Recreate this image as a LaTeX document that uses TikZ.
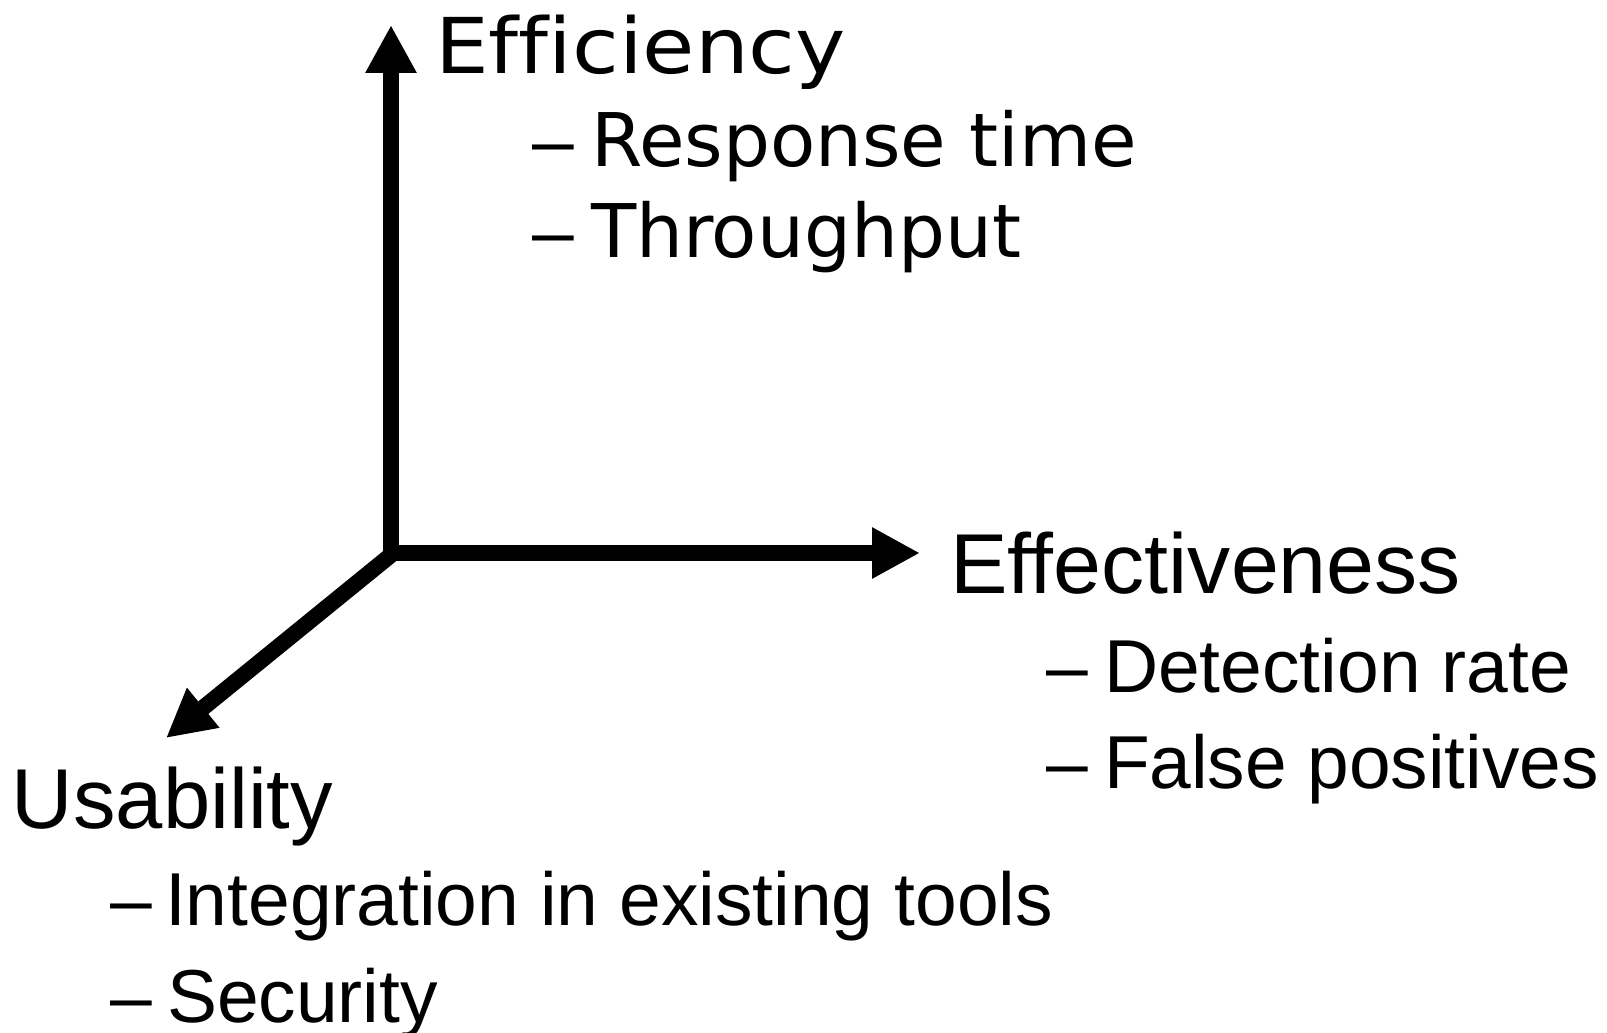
\documentclass[tikz,border=0pt]{standalone}
\usepackage{fontspec}
\setmainfont{Liberation Sans}[Ligatures=NoCommon]
\newfontfamily\vera{DejaVu Sans}[Ligatures=NoCommon]
\newfontfamily\arial{Liberation Sans}[Ligatures=NoCommon]
\usetikzlibrary{arrows.meta}
\begin{document}
\begin{tikzpicture}[x=1pt,y=-1pt,
  axis/.style={line width=16pt,line cap=butt,-{Triangle[length=48pt,width=48pt]}},
  lbl/.style={anchor=base west,inner sep=0pt,outer sep=0pt},
  verahead/.style={lbl,font=\vera\fontsize{77}{90}\selectfont},
  veraitem/.style={lbl,font=\vera\fontsize{74}{90}\selectfont},
  arialhead/.style={lbl,font=\arial\fontsize{85}{100}\selectfont},
  arialitem/.style={lbl,font=\arial\fontsize{75}{90}\selectfont}]
\useasboundingbox[fill=white] (0,0) rectangle (1607,1033);
\coordinate (Ov) at (391,561);
\coordinate (Oh) at (383,553);
\coordinate (Od) at (391,555);
\coordinate (tipV) at (391,25);
\coordinate (tipH) at (920,553);
\coordinate (tipD) at (166,738);
\draw[axis] (Ov) -- (tipV);
\draw[axis] (Oh) -- (tipH);
\draw[axis] (Od) -- (tipD);
% Efficiency
\node[verahead] (eff) at (435,74) {\resizebox{411pt}{\height}{Efficiency}};
\node[arialitem] (d1) at (532,166) {–};
\node[veraitem] (resp) at (591,166) {Response time};
\node[arialitem] (d2) at (532,257) {–};
\node[veraitem] (thr) at (591,257) {Throughput};
% Effectiveness
\node[arialhead] (effect) at (950,593) {\resizebox{511pt}{\height}{Effectiveness}};
\node[arialitem] (d3) at (1046,692) {–};
\node[arialitem] (det) at (1104,692) {Detection rate};
\node[arialitem] (d4) at (1046,788) {–};
\node[arialitem] (fp) at (1104,788) {\resizebox{495pt}{\height}{False positives}};
% Usability
\node[arialhead] (us) at (12,828) {Usability};
\node[arialitem] (d5) at (110,925) {–};
\node[arialitem] (integ) at (165,925) {Integration in existing tools};
\node[arialitem] (d6) at (110,1022) {–};
\node[arialitem] (sec) at (167,1022) {Security};
\end{tikzpicture}
\end{document}
